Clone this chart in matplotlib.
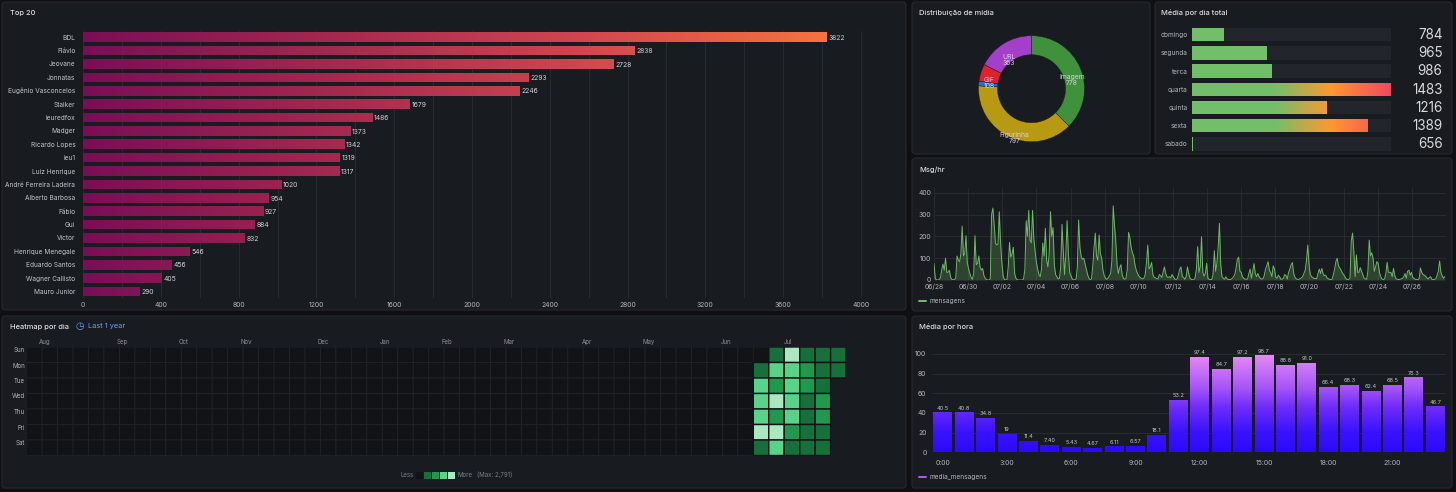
import numpy as np
import matplotlib
matplotlib.use("Agg")
import matplotlib.pyplot as plt
from matplotlib.colors import LinearSegmentedColormap, ListedColormap, BoundaryNorm, Normalize
from matplotlib.patches import FancyBboxPatch, Rectangle

plt.rcParams['font.family'] = ['Inter', 'DejaVu Sans']

# ---------- data ----------
top_names = ["BDL", "Flávio", "Jeovane", "Jonnatas", "Eugênio Vasconcelos", "Stalker", "ieuredfox", "Madger",
             "Ricardo Lopes", "ieu1", "Luiz Henrique", "André Ferreira Ladeira", "Alberto Barbosa", "Fábio",
             "Gui", "Victor", "Henrique Menegale", "Eduardo Santos", "Wagner Callisto", "Mauro Junior"]
top_values = [3822, 2838, 2728, 2293, 2246, 1679, 1486, 1373, 1342, 1319, 1317, 1020, 954, 927, 884, 832, 546, 456, 405, 290]

media_labels = ["Imagem", "Figurinha", "", "GIF", "URL"]
media_values = [778, 797, 30, 108, 363]
media_shown = ["778", "797", "", "108", "363"]

week_days = ["domingo", "segunda", "terca", "quarta", "quinta", "sexta", "sabado"]
week_values = [784, 965, 986, 1483, 1216, 1389, 656]

msg_series = [
    75,8,0,0,2,10,45,73,45,100,35,35,45,12,2,1,3,8,110,90,84,120,247,110,120,203,80,50,30,12,
    3,30,203,70,75,110,60,45,53,20,8,2,0,0,5,300,330,255,170,160,165,313,170,80,20,3,0,2,60,172,
    105,120,150,30,8,1,0,0,0,0,5,50,272,200,319,183,170,319,190,130,80,50,25,15,50,170,110,237,90,60,
    120,313,200,240,70,25,15,5,8,60,
    255,130,25,120,272,120,35,20,5,0,1,5,60,275,150,107,95,100,75,50,25,8,1,5,60,145,215,110,90,206,
    120,100,45,20,8,3,8,20,30,90,340,250,180,70,30,55,70,25,8,3,8,50,218,195,150,125,110,70,45,30,
    18,12,8,5,8,25,80,160,50,60,80,25,12,10,6,5,25,20,12,35,60,30,15,12,15,10,25,15,5,2,
    5,25,50,60,15,12,3,15,60,30,
    8,3,1,1,10,50,153,35,60,198,35,18,30,76,8,3,2,2,25,134,40,76,150,260,70,15,8,3,15,5,
    2,2,3,8,15,25,55,95,105,40,35,15,8,4,3,5,30,50,8,40,75,30,15,30,15,8,4,6,20,50,
    65,84,45,35,15,65,50,12,8,22,15,3,4,8,25,20,4,35,50,70,80,30,12,5,3,3,6,10,15,30,
    45,90,160,70,25,15,12,6,8,6,
    30,50,30,53,28,20,22,10,6,3,2,3,25,50,85,100,65,55,45,32,25,15,5,2,3,8,180,215,130,15,
    115,35,35,57,40,25,8,5,3,40,183,110,125,100,40,60,84,76,35,15,5,2,5,30,81,35,35,35,15,53,
    20,6,3,2,3,5,8,15,30,8,40,45,22,35,12,8,3,2,2,5,55,35,26,22,18,10,5,12,15,3,
    2,3,5,20,40,87,35,20,8,15]
msg_step_days = 0.075
msg_ticks = ["06/28", "06/30", "07/02", "07/04", "07/06", "07/08", "07/10", "07/12",
             "07/14", "07/16", "07/18", "07/20", "07/22", "07/24", "07/26"]

hour_values = [40.5, 40.8, 34.8, 19, 11.4, 7.40, 5.43, 4.67, 6.11, 6.57, 18.1, 53.2,
               97.4, 84.7, 97.2, 98.7, 88.8, 91.0, 66.4, 68.3, 62.4, 68.5, 76.3, 46.7]
hour_text = ["40.5", "40.8", "34.8", "19", "11.4", "7.40", "5.43", "4.67", "6.11", "6.57", "18.1", "53.2",
             "97.4", "84.7", "97.2", "98.7", "88.8", "91.0", "66.4", "68.3", "62.4", "68.5", "76.3", "46.7"]
hour_ticks = ["0:00", "3:00", "6:00", "9:00", "12:00", "15:00", "18:00", "21:00"]

heat_rows = ["Sun", "Mon", "Tue", "Wed", "Thu", "Fri", "Sat"]
heat_months = ["Aug", "Sep", "Oct", "Nov", "Dec", "Jan", "Feb", "Mar", "Apr", "May", "Jun", "Jul"]
heat_recent = [  # last six weeks, estimated messages per day (0 = no messages, nan = no day yet)
    [0, 700, 2500, 700, 700, 700],
    [700, 1800, 1800, 1200, 700, 700],
    [1800, 1200, 1800, 1200, 700, np.nan],
    [1800, 2500, 1800, 700, 1200, np.nan],
    [1800, 1200, 1800, 700, 1200, np.nan],
    [2500, 2500, 1200, 700, 700, np.nan],
    [700, 1800, 700, 700, 700, np.nan],
]

# ---------- style ----------
W, H = 1456, 492
PAGE, PANEL, EDGE = "#0f1013", "#181b1f", "#292b30"
TXT, TITLE, GRID = "#b4b6bb", "#d8d9da", "#2a2d31"
FS = 4.7
TICK = 4.9

fig = plt.figure(figsize=(W / 100, H / 100), dpi=100, facecolor=PAGE)
bg = fig.add_axes([0, 0, 1, 1], zorder=0)
bg.set_xlim(0, W); bg.set_ylim(H, 0); bg.axis("off")


def px_axes(l, t, r, b):
    ax = fig.add_axes([l / W, 1 - b / H, (r - l) / W, (b - t) / H], zorder=2)
    ax.patch.set_alpha(0)
    for s in ax.spines.values():
        s.set_visible(False)
    ax.tick_params(length=0, colors=TXT, labelsize=TICK, pad=2)
    return ax


def panel(l, t, r, b, title, tx=None, ty=11):
    bg.add_patch(FancyBboxPatch((l + 3, t + 3), r - l - 6, b - t - 6, boxstyle="round,pad=3,rounding_size=3",
                                fc=PANEL, ec=EDGE, lw=0.7))
    bg.text(l + 8 if tx is None else tx, t + ty, title, color=TITLE, fontsize=5.4, fontweight="medium", va="center")


panel(2, 2, 906, 310, "Top 20")
panel(912, 2, 1150, 154, "Distribuição de mídia", 919)
panel(1155, 2, 1452, 154, "Média por dia total", 1161)
panel(912, 158, 1452, 311, "Msg/hr", 919, 12)
panel(2, 316, 906, 488, "Heatmap por dia")
panel(912, 316, 1452, 488, "Média por hora", 919)


def gradient_bar(ax, patch, cmap, norm, horizontal=True):
    x0, x1 = ax.get_xlim(); y0, y1 = ax.get_ylim()
    if horizontal:
        g = np.linspace(x0, x1, 512)[None, :]
    else:
        g = np.linspace(y0, y1, 512)[:, None]
    im = ax.imshow(g, extent=(x0, x1, y0, y1), origin="lower", cmap=cmap, norm=norm, aspect="auto", zorder=patch.get_zorder())
    im.set_clip_path(patch)
    ax.set_xlim(x0, x1); ax.set_ylim(y0, y1)


# ---------- Top 20 ----------
ax = px_axes(83, 30.5, 875, 298.2)
ax.set_xlim(0, (875 - 83) / 0.1945)
ax.set_ylim(len(top_values) - 0.5, -0.5)
ax.set_xticks(np.arange(0, 4001, 200), minor=True)
ax.set_xticks(np.arange(0, 4001, 400))
ax.grid(axis="x", which="both", color=GRID, lw=0.6)
ax.set_axisbelow(True)
ax.set_yticks(range(len(top_names)), top_names)
ax.tick_params(axis="y", pad=5.5, labelcolor="#c4c6ca", labelsize=FS)
ax.tick_params(axis="x", which="both", length=0, pad=3)
top_cmap = LinearSegmentedColormap.from_list("top", ["#7a0e57", "#a4294f", "#cf4650", "#f4733e"])
top_norm = Normalize(0, max(top_values))
bars = ax.barh(range(len(top_values)), top_values, height=0.72, color="none", zorder=2)
for b, v in zip(bars, top_values):
    gradient_bar(ax, b, top_cmap, top_norm)
    ax.annotate(str(v), (v, b.get_y() + b.get_height() / 2), xytext=(1.3, -0.5), textcoords="offset points",
                color="#d0d2d6", fontsize=TICK, va="center")

# ---------- Donut ----------
ax = px_axes(1031.5 - 55, 88.7 - 55, 1031.5 + 55, 88.7 + 55)
ax.pie(media_values, startangle=90, counterclock=False, radius=53 / 55,
       colors=["#3f913c", "#b89a12", "#1f6fe0", "#e0202f", "#a33fc9"],
       wedgeprops=dict(width=19 / 55, edgecolor="#181b1f", linewidth=0.3))
ax.set_xlim(-1, 1); ax.set_ylim(-1, 1)
donut_label_px = [(1072, 80), (1014.6, 138), None, (989, 83), (1008.6, 60)]
for name, shown, pos in zip(media_labels, media_shown, donut_label_px):
    if pos:
        fig.text(pos[0] / W, 1 - pos[1] / H, f"{name}\n{shown}", color="#d4d5d8", fontsize=4.9,
                 ha="center", va="center", linespacing=1.1, zorder=6)

# ---------- Média por dia ----------
ax = px_axes(1192.4, 25.5, 1390.5, 153)
ax.set_xlim(652, 1483)
ax.set_ylim(len(week_days) - 0.5, -0.5)
ax.set_yticks(range(len(week_days)), week_days)
ax.set_xticks([])
ax.tick_params(axis="y", pad=3.5, labelsize=FS)
ax.barh(range(len(week_days)), [1483 - 652] * 7, left=652, height=0.74, color="#22252b", zorder=1)
week_cmap = LinearSegmentedColormap.from_list("wk", [(0, "#73bf69"), (0.415, "#73bf69"), (0.70, "#ff9830"), (1, "#f2495c")])
week_bars = ax.barh(range(len(week_days)), np.array(week_values) - 652, left=652, height=0.74, color="none", zorder=2)
for b, v in zip(week_bars, week_values):
    gradient_bar(ax, b, week_cmap, Normalize(652, 1483))
    ax.annotate(str(v), (1483, b.get_y() + b.get_height() / 2), xytext=(52, -0.3), textcoords="offset pixels",
                color="#d8d9da", fontsize=9.7, ha="right", va="center", annotation_clip=False)

# ---------- Msg/hr ----------
ax = px_axes(934, 188, 1446, 280)
msg_days = np.arange(len(msg_series)) * msg_step_days
ax.plot(msg_days, msg_series, color="#6fb765", lw=0.7, zorder=3)
ax.fill_between(msg_days, msg_series, color="#73bf69", alpha=0.25, lw=0, zorder=2)
ax.set_xlim(0, 30)
ax.set_ylim(0, 92 / 87.3 * 400)
ax.set_yticks(range(0, 401, 100))
ax.set_xticks(np.arange(0, 30, 2), msg_ticks)
ax.grid(color=GRID, lw=0.6)
ax.set_axisbelow(True)
ax.tick_params(axis="x", pad=2.5)
bg.plot([919, 926], [300.7, 300.7], color="#73bf69", lw=1.4, solid_capstyle="round")
bg.text(930, 300.7, "mensagens", color=TXT, fontsize=FS, va="center")

# ---------- Heatmap ----------
col_w, row_h, left, top = 15.46, 15.5, 26.7, 347
n_cols, n_rows = 53, 7
ax = px_axes(left, top, left + n_cols * col_w, top + n_rows * row_h)
heat = np.zeros((n_rows, n_cols))
heat[:, 47:] = np.array(heat_recent)
heat_cmap = ListedColormap(["#121317", "#15703a", "#1f994c", "#58d489", "#a8e9bf"])
heat_norm = BoundaryNorm([0, 1, 1000, 1500, 2200, 2792], heat_cmap.N)
empty = np.ma.masked_where(~(heat == 0), heat)
filled = np.ma.masked_invalid(np.where(heat > 0, heat, np.nan))
ax.pcolor(np.arange(n_cols + 1), np.arange(n_rows + 1), empty, cmap=heat_cmap, norm=heat_norm,
          edgecolors="#212327", linewidth=0.6)
ax.pcolor(np.arange(n_cols + 1), np.arange(n_rows + 1), filled, cmap=heat_cmap, norm=heat_norm,
          edgecolors="#101216", linewidth=1.0)
ax.set_xlim(0, n_cols)
ax.set_ylim(n_rows, 0)
ax.set_xticks([]); ax.set_yticks([])
for lab, y in zip(heat_rows, np.arange(n_rows)):
    bg.text(25, top + 3 + row_h * y, lab, color=TXT, fontsize=4.4, ha="right", va="center")
month_px = [45, 122.7, 184, 246, 323, 385, 447, 509, 587, 649, 726, 788]
for lab, x in zip(heat_months, month_px):
    bg.text(x, 342, lab, color="#8e9095", fontsize=4.4, ha="center", va="center")
bg.text(80, 326, "◷", color="#6e9fff", fontsize=7, ha="center", va="center", family="DejaVu Sans")
bg.text(88, 326, "Last 1 year", color="#6e9fff", fontsize=5.3, va="center")
bg.text(400.5, 475, "Less", color="#7d7f84", fontsize=4.4, va="center")
for x, c in zip([416, 424, 432, 440, 448], heat_cmap.colors):
    bg.add_patch(Rectangle((x - 0.5, 471.5), 7, 7, fc=c, ec="none", zorder=3))
bg.text(457, 475, "More", color="#7d7f84", fontsize=4.4, va="center")
bg.text(477, 475, "(Max: 2,791)", color="#7d7f84", fontsize=4.4, va="center")

# ---------- Média por hora ----------
ax = px_axes(932, 350, 1446, 452.3)
ax.set_ylim(0, (452.3 - 350) / 0.983)
ax.set_xlim(-0.5, 23.5)
ax.set_yticks(range(0, 101, 20))
ax.set_xticks(range(0, 24, 3), hour_ticks)
ax.grid(axis="y", color=GRID, lw=0.6)
ax.set_axisbelow(True)
ax.tick_params(axis="x", pad=5.5)
ax.tick_params(axis="y", pad=4)
hour_cmap = LinearSegmentedColormap.from_list("hr", [(0, "#2c0aff"), (0.2, "#3a12ff"), (0.45, "#6e2cfa"), (0.65, "#a655f8"), (1, "#ea8cf6")])
hour_bars = ax.bar(range(24), hour_values, width=0.88, color="none", zorder=2)
for b, v, s in zip(hour_bars, hour_values, hour_text):
    gradient_bar(ax, b, hour_cmap, Normalize(0, 100), horizontal=False)
    ax.annotate(s, (b.get_x() + b.get_width() / 2, v), xytext=(0, 1.2), textcoords="offset points",
                color="#c4c6ca", fontsize=4.0, ha="center", va="bottom")
bg.plot([919, 926], [476.7, 476.7], color="#b45ee0", lw=1.4, solid_capstyle="round")
bg.text(930, 476.7, "media_mensagens", color=TXT, fontsize=FS, va="center")

fig.savefig("out.png", dpi=100, facecolor=PAGE)
